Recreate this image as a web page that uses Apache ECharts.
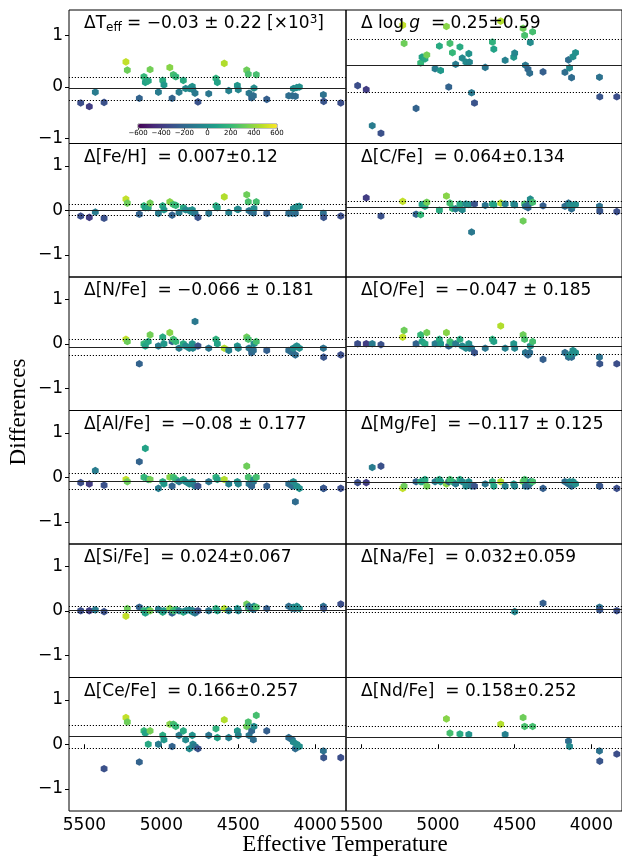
<!DOCTYPE html>
<html>
<head>
<meta charset="utf-8">
<script src="https://cdn.jsdelivr.net/npm/echarts@6/dist/echarts.min.js"></script>
<style>
  html, body { margin: 0; padding: 0; background: #fff; }
  #chart { width: 622px; height: 859px; }
</style>
</head>
<body>
<div id="chart"></div>
<script>
// one entry per star, same order in every array
var teff  = [5524, 5468, 5429, 5372, 5230, 5221, 5143, 5113, 5104, 5085,
             5073, 5019, 4991, 4983, 4945, 4930, 4922, 4906, 4885, 4857,
             4842, 4818, 4799, 4795, 4781, 4762, 4692, 4645, 4636, 4591,
             4562, 4506, 4500, 4445, 4435, 4430, 4413, 4402, 4398, 4383,
             4315, 4172, 4149, 4129, 4142, 4120, 4103, 3947, 3945, 3834];
// delta Teff in 10^3 K (also the colour of each star)
var dTeff = [-0.31, -0.38, -0.10, -0.30, 0.49, 0.33, -0.22, 0.20, 0.09, 0.12,
             0.34, -0.10, 0.13, 0.04, 0.38, -0.22, 0.24, 0.20, -0.10, 0.13,
             -0.03, -0.03, 0.01, -0.05, -0.12, -0.29, -0.13, 0.17, 0.09, 0.46,
             -0.07, 0.03, -0.05, 0.33, 0.25, -0.12, -0.21, -0.17, -0.02, 0.24,
             -0.24, -0.17, -0.17, -0.18, -0.03, -0.01, 0.00, -0.15, -0.28, -0.31];
var dLogg = [-0.20, -0.29, -1.10, -1.27, 1.16, 0.75, -0.71, 0.31, 0.44, 0.40,
             0.49, 0.18, 0.69, 0.14, 1.13, -0.23, 0.75, 0.54, 0.28, 0.67,
             0.42, 0.33, 0.52, 0.33, -0.36, -0.59, 0.21, 0.78, 0.62, 1.25,
             0.37, 0.44, 0.53, 1.09, 0.93, 0.26, 0.17, 0.08, 0.77, 1.01,
             0.11, 0.10, 0.38, -0.02, 0.20, 0.45, 0.54, -0.01, -0.45, -0.45];
var dFeH = [-0.13, -0.16, -0.04, -0.18, 0.25, 0.16, -0.09, 0.10, 0.06, 0.06,
            0.16, -0.07, 0.10, 0.01, 0.19, -0.11, 0.13, 0.11, -0.05, 0.06,
            0.01, -0.01, 0.01, -0.05, -0.07, -0.16, -0.07, 0.10, 0.06, 0.30,
            -0.05, 0.02, 0.02, 0.35, 0.19, -0.01, -0.04, -0.06, 0.04, 0.19,
            -0.07, -0.07, -0.07, -0.07, 0.04, 0.08, 0.09, -0.07, -0.16, -0.13];
var dCFe = [null, 0.28, null, -0.13, 0.20, null, -0.09, -0.10, 0.13, 0.09,
            0.18, null, 0.00, null, 0.32, null, 0.16, 0.04, 0.03, 0.14,
            0.01, 0.14, 0.13, null, -0.49, 0.14, 0.11, 0.14, 0.12, 0.16,
            0.14, 0.14, 0.12, -0.24, 0.14, 0.09, 0.06, 0.16, 0.25, 0.18,
            0.10, 0.09, 0.16, 0.03, 0.13, 0.10, 0.13, 0.09, -0.02, -0.03];
var dNFe = [null, null, null, null, 0.10, 0.05, -0.45, 0.00, -0.05, 0.05,
            0.20, -0.05, 0.15, 0.00, 0.25, 0.05, 0.10, 0.05, -0.10, 0.00,
            -0.05, -0.10, 0.00, -0.10, 0.50, -0.05, -0.10, 0.10, 0.00, -0.10,
            -0.15, -0.05, -0.10, 0.15, 0.10, -0.10, -0.20, -0.15, 0.00, 0.05,
            -0.15, -0.15, -0.20, -0.25, -0.10, -0.05, -0.10, -0.10, -0.30, -0.25];
var dOFe = [0.00, 0.00, 0.00, -0.02, 0.15, 0.30, 0.00, 0.20, 0.05, 0.00,
            0.25, 0.00, 0.10, 0.00, 0.25, -0.05, 0.05, 0.00, 0.00, 0.10,
            -0.05, -0.10, 0.00, -0.10, -0.10, -0.20, -0.10, 0.10, 0.05, 0.40,
            -0.10, 0.00, -0.10, 0.20, 0.10, -0.20, -0.25, -0.20, -0.05, 0.05,
            -0.35, -0.20, -0.30, -0.30, -0.25, -0.15, -0.20, -0.30, -0.45, -0.45];
var dAlFe = [-0.12, -0.15, 0.15, -0.18, -0.05, -0.10, 0.35, 0.00, 0.65, -0.05,
             -0.05, -0.25, -0.10, -0.15, 0.00, -0.20, 0.00, -0.05, -0.10, -0.05,
             -0.10, -0.15, -0.10, -0.15, -0.20, -0.20, -0.10, 0.00, -0.05, -0.05,
             -0.15, -0.10, -0.15, 0.25, 0.00, -0.15, -0.20, -0.10, -0.05, 0.00,
             -0.20, -0.15, -0.20, -0.55, -0.10, -0.20, -0.25, -0.25, -0.25, -0.25];
var dMgFe = [-0.12, -0.12, 0.22, 0.25, -0.25, -0.20, -0.10, -0.10, -0.10, -0.05,
             -0.20, -0.10, -0.05, -0.10, -0.15, -0.10, -0.05, -0.10, -0.15, -0.05,
             -0.10, -0.20, -0.10, -0.15, -0.20, -0.20, -0.15, -0.10, -0.20, -0.10,
             -0.20, -0.15, -0.20, -0.10, -0.05, -0.20, -0.20, -0.15, -0.10, -0.10,
             -0.25, -0.10, -0.15, -0.20, -0.10, -0.10, -0.15, -0.20, -0.20, -0.25];
var dSiFe = [0.00, 0.00, 0.02, -0.02, -0.12, 0.05, 0.08, 0.00, -0.05, 0.02,
             0.00, 0.03, -0.03, 0.00, 0.05, -0.05, 0.00, 0.02, 0.00, -0.03,
             0.00, 0.02, -0.02, 0.00, -0.05, 0.00, 0.00, 0.05, 0.00, 0.05,
             0.00, 0.05, 0.00, 0.15, 0.05, 0.10, 0.05, 0.03, 0.10, 0.08,
             0.05, 0.10, 0.05, 0.05, 0.08, 0.10, 0.05, 0.10, 0.05, 0.15];
var dNaFe = [null, null, null, null, null, null, null, null, null, null,
             null, null, null, null, null, null, null, null, null, null,
             null, null, null, null, null, null, null, null, null, null,
             null, null, -0.02, null, null, null, null, null, null, null,
             0.17, null, null, null, null, null, null, 0.08, 0.02, 0.00];
var dCeFe = [null, null, null, -0.55, 0.60, 0.50, -0.40, 0.30, 0.25, 0.00,
             0.30, 0.00, 0.20, 0.10, 0.45, -0.05, 0.45, 0.40, 0.20, 0.30,
             0.10, -0.10, 0.20, 0.00, -0.05, -0.10, 0.20, 0.35, 0.15, 0.55,
             0.15, 0.30, 0.20, 0.40, 0.50, 0.20, 0.30, 0.10, 0.40, 0.65,
             0.30, 0.15, 0.10, -0.10, 0.05, 0.00, -0.05, -0.15, -0.30, -0.30];
var dNdFe = [null, null, null, null, null, null, null, null, null, null,
             null, null, null, null, 0.57, null, 0.25, null, null, 0.23,
             null, null, 0.22, null, null, null, null, null, null, 0.45,
             0.22, null, null, 0.60, 0.40, null, null, null, null, 0.40,
             null, null, 0.07, null, -0.05, null, null, -0.15, -0.38, -0.22];

var panelValues = [dTeff, dLogg, dFeH, dCFe, dNFe, dOFe, dAlFe, dMgFe, dSiFe, dNaFe, dCeFe, dNdFe];
var panelMeans  = [-0.03, 0.25, 0.007, 0.064, -0.066, -0.047, -0.08, -0.117, 0.024, 0.032, 0.166, 0.158];
var panelStds   = [0.22, 0.59, 0.12, 0.134, 0.181, 0.185, 0.177, 0.125, 0.067, 0.059, 0.257, 0.252];
var panelLabels = [
  '{n|ΔT}{sub|eff}{n| = −0.03 ± 0.22 [×10}{sup|3}{n|]}',
  '{n|Δ log }{i|g}{n|  = 0.25±0.59}',
  '{n|Δ[Fe/H]  = 0.007±0.12}',
  '{n|Δ[C/Fe]  = 0.064±0.134}',
  '{n|Δ[N/Fe]  = −0.066 ± 0.181}',
  '{n|Δ[O/Fe]  = −0.047 ± 0.185}',
  '{n|Δ[Al/Fe]  = −0.08 ± 0.177}',
  '{n|Δ[Mg/Fe]  = −0.117 ± 0.125}',
  '{n|Δ[Si/Fe]  = 0.024±0.067}',
  '{n|Δ[Na/Fe]  = 0.032±0.059}',
  '{n|Δ[Ce/Fe]  = 0.166±0.257}',
  '{n|Δ[Nd/Fe]  = 0.158±0.252}'
];
var tempTicks = [4000, 4500, 5000, 5500];
var diffTicks = [-1, 0, 1];

var viridis = ['#440154', '#482878', '#3e4989', '#31688e', '#26828e',
               '#1f9e89', '#35b779', '#6ece58', '#b5de2b', '#fde725'];
var hexagon = 'path://M0,-1 L0.866,-0.5 L0.866,0.5 L0,1 L-0.866,0.5 L-0.866,-0.5 Z';

function buildOption() {
  var font = 'DejaVu Sans';
  var gridLeft = [69, 346];
  var firstTop = 10, rowH = 133.5, colW = 277;
  var grids = [], xAxes = [], yAxes = [], series = [], titles = [];
  var minus = function (v) { return String(v).replace('-', '−'); };
  var txt = function (extra) {
    var st = { fontSize: 17, fontFamily: font, fontWeight: 'normal', color: '#000', lineHeight: 20 };
    for (var key in extra) st[key] = extra[key];
    return st;
  };

  for (var p = 0; p < 12; p++) {
    var row = Math.floor(p / 2), col = p % 2;
    var rowTop = firstTop + row * rowH;
    var bottomRow = row === 5;
    grids.push({ left: gridLeft[col], top: rowTop, width: colW, height: rowH,
                 show: true, borderColor: '#000', borderWidth: 1, backgroundColor: 'transparent' });
    xAxes.push({
      type: 'value', gridIndex: p, min: 3800, max: 5600, inverse: true,
      axisLine: { show: false }, splitLine: { show: false },
      axisTick: { show: bottomRow, length: 4, customValues: tempTicks, lineStyle: { color: '#000' } },
      axisLabel: { show: bottomRow, customValues: tempTicks, fontSize: 17, fontFamily: font,
                   color: '#000', margin: 6, formatter: function (v) { return String(v); } }
    });
    yAxes.push({
      type: 'value', gridIndex: p, min: p === 0 ? -1.1 : -1.5, max: 1.5,
      axisLine: { show: false }, splitLine: { show: false },
      axisTick: { show: col === 0, length: 4, customValues: diffTicks, lineStyle: { color: '#000' } },
      axisLabel: { show: col === 0, customValues: diffTicks, fontSize: 17, fontFamily: font,
                   color: '#000', margin: 6, formatter: minus }
    });
    var vals = panelValues[p], pts = [];
    for (var k = 0; k < teff.length; k++) {
      if (vals[k] !== null) pts.push([teff[k], vals[k], dTeff[k] * 1000]);
    }
    var m = panelMeans[p], sd = panelStds[p];
    series.push({
      type: 'scatter', xAxisIndex: p, yAxisIndex: p, data: pts,
      symbol: hexagon, symbolSize: [6.8, 7.6], clip: true,
      itemStyle: { opacity: 1 }, emphasis: { disabled: true },
      markLine: {
        silent: true, symbol: 'none', animation: false, label: { show: false },
        data: [
          { yAxis: m, lineStyle: { type: 'solid', color: '#222', width: 1.2 } },
          { yAxis: m + sd, lineStyle: { type: [1.2, 1.8], color: '#000', width: 1 } },
          { yAxis: m - sd, lineStyle: { type: [1.2, 1.8], color: '#000', width: 1 } }
        ]
      }
    });
    titles.push({
      text: panelLabels[p], left: gridLeft[col] + 15, top: rowTop + 4, padding: 0,
      textStyle: {
        fontWeight: 'normal',
        rich: {
          n: txt({}),
          i: txt({ fontStyle: 'italic' }),
          sub: txt({ fontSize: 12, verticalAlign: 'bottom', padding: [6, 0, 0, 0] }),
          sup: txt({ fontSize: 12, verticalAlign: 'top', padding: [0, 0, 6, 0] })
        }
      }
    });
  }

  // colour bar axis, inset in the first panel
  grids.push({ left: 138, top: 124, width: 139, height: 4, show: true,
               borderColor: '#666', borderWidth: 0.8, backgroundColor: 'transparent' });
  xAxes.push({
    type: 'value', gridIndex: 12, min: -600, max: 600, interval: 200,
    axisLine: { show: false }, splitLine: { show: false },
    axisTick: { length: 2, lineStyle: { color: '#000', width: 0.6 } },
    axisLabel: { fontSize: 7, fontFamily: font, color: '#000', margin: 2, formatter: minus }
  });
  yAxes.push({ type: 'value', gridIndex: 12, show: false, min: 0, max: 1 });

  return {
    animation: false,
    backgroundColor: '#fff',
    title: titles,
    grid: grids,
    xAxis: xAxes,
    yAxis: yAxes,
    visualMap: {
      type: 'continuous', min: -600, max: 600, dimension: 2,
      seriesIndex: [0, 1, 2, 3, 4, 5, 6, 7, 8, 9, 10, 11],
      inRange: { color: viridis },
      orient: 'horizontal', left: 133, top: 119, padding: 5,
      itemWidth: 4, itemHeight: 139, calculable: false
    },
    series: series,
    graphic: [
      { type: 'text', x: 19, y: 412, rotation: Math.PI / 2,
        style: { text: 'Differences', font: '23px "Liberation Serif"', fill: '#000',
                 textAlign: 'center', textVerticalAlign: 'middle' } },
      { type: 'text', x: 345, y: 845,
        style: { text: 'Effective Temperature', font: '23px "Liberation Serif"', fill: '#000',
                 textAlign: 'center', textVerticalAlign: 'middle' } }
    ]
  };
}

var chart = echarts.init(document.getElementById('chart'));
chart.setOption(buildOption());
</script>
</body>
</html>
